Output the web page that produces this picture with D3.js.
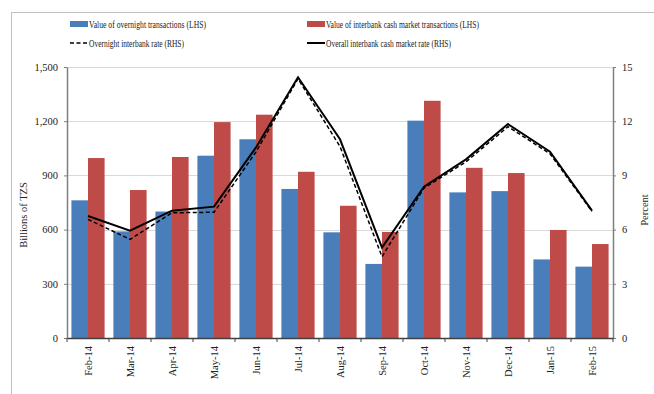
<!DOCTYPE html>
<html>
<head>
<meta charset="utf-8">
<script src="https://cdn.jsdelivr.net/npm/d3@7"></script>
<style>
  html, body { margin: 0; padding: 0; background: #fff; }
  svg { display: block; font-family: "Liberation Serif", "Times New Roman", serif; }
</style>
</head>
<body>
<svg id="chart" width="654" height="394"></svg>
<script>
// Monthly interbank market activity, Feb-14 to Feb-15
const months = ["Feb-14","Mar-14","Apr-14","May-14","Jun-14","Jul-14","Aug-14","Sep-14","Oct-14","Nov-14","Dec-14","Jan-15","Feb-15"];
// Billions of TZS (left axis)
const overnightValue = [762, 590, 700, 1009, 1100, 825, 585, 410, 1203, 806, 813, 435, 395];
const interbankValue = [996, 819, 1002, 1195, 1236, 920, 732, 587, 1313, 942, 913, 598, 520];
// Percent (right axis)
const overnightRate = [6.57, 5.46, 6.93, 6.96, 10.3, 14.35, 10.6, 4.5, 8.3, 9.75, 11.7, 10.2, 7.0];
const overallRate   = [6.75, 5.94, 7.05, 7.27, 10.55, 14.43, 11.0, 5.0, 8.37, 9.89, 11.84, 10.31, 7.05];
const leftTicks = [0, 300, 600, 900, 1200, 1500];
const rightTicks = [0, 3, 6, 9, 12, 15];

const blue = "#4A7EBB", red = "#BE4B48";
const svg = d3.select("#chart");
const plot = { left: 67, right: 613, top: 67, bottom: 338 };

// outer frame
svg.append("path")
  .attr("d", `M11.5,394 V12.5 H654`)
  .attr("fill", "none").attr("stroke", "#bfbfbf").attr("stroke-width", 1);

const x = d3.scaleBand().domain(months).range([plot.left, plot.right]).paddingInner(0.21).paddingOuter(0.105);
const xBand = d3.scaleBand().domain(months).range([plot.left, plot.right]);
const sub = d3.scaleBand().domain(["o", "i"]).range([0, x.bandwidth()]);
const yL = d3.scaleLinear().domain([0, 1500]).range([plot.bottom, plot.top]);
const yR = d3.scaleLinear().domain([0, 15]).range([plot.bottom, plot.top]);

// gridlines
svg.append("g").selectAll("line").data(leftTicks.filter(d => d > 0)).join("line")
  .attr("x1", plot.left).attr("x2", plot.right)
  .attr("y1", d => Math.round(yL(d)) + 0.5).attr("y2", d => Math.round(yL(d)) + 0.5)
  .attr("stroke", "#d9d9d9").attr("stroke-width", 1);

// bars
const groups = svg.append("g").selectAll("g").data(months).join("g")
  .attr("transform", d => `translate(${x(d)},0)`);
groups.append("rect")
  .attr("x", sub("o")).attr("width", sub.bandwidth())
  .attr("y", (d, i) => yL(overnightValue[i]))
  .attr("height", (d, i) => yL(0) - yL(overnightValue[i]))
  .attr("fill", blue);
groups.append("rect")
  .attr("x", sub("i")).attr("width", sub.bandwidth())
  .attr("y", (d, i) => yL(interbankValue[i]))
  .attr("height", (d, i) => yL(0) - yL(interbankValue[i]))
  .attr("fill", red);

// axes
const axisColor = "#7f7f7f";
function styleAxis(g) {
  g.selectAll("path.domain").attr("stroke", axisColor).attr("stroke-width", 1.5);
  g.selectAll(".tick line").attr("stroke", axisColor);
  g.selectAll("text").attr("fill", "#222").attr("font-size", 10.5)
    .attr("font-family", '"Liberation Serif", "Times New Roman", serif');
}
const gL = svg.append("g").attr("transform", `translate(${plot.left},0)`)
  .call(d3.axisLeft(yL).tickValues(leftTicks).tickSize(3).tickSizeOuter(0).tickPadding(6)
    .tickFormat(d3.format(",")));
styleAxis(gL);
const gR = svg.append("g").attr("transform", `translate(${plot.right},0)`)
  .call(d3.axisRight(yR).tickValues(rightTicks).tickSize(3).tickSizeOuter(0).tickPadding(6));
styleAxis(gR);

const gX = svg.append("g").attr("transform", `translate(0,${plot.bottom})`)
  .call(d3.axisBottom(xBand).tickSize(0).tickPadding(0));
gX.selectAll("path.domain").attr("stroke", "#404040").attr("stroke-width", 1.5);
gX.selectAll(".tick text")
  .attr("transform", "rotate(-90)")
  .attr("text-anchor", "end")
  .attr("x", -8).attr("y", 0).attr("dy", "0.35em")
  .attr("font-size", 10.5).attr("fill", "#222")
  .attr("font-family", '"Liberation Serif", "Times New Roman", serif');
// category separator ticks
gX.append("g").selectAll("line").data(months.concat(["end"])).join("line")
  .attr("x1", (d, i) => plot.left + i * xBand.step()).attr("x2", (d, i) => plot.left + i * xBand.step())
  .attr("y1", 0).attr("y2", 4).attr("stroke", "#404040");

// rate lines
const center = d => xBand(d) + xBand.bandwidth() / 2;
const lineOf = arr => d3.line().x((d, i) => center(months[i])).y(d => yR(d))(arr);
svg.append("path").attr("d", lineOf(overnightRate))
  .attr("fill", "none").attr("stroke", "#000").attr("stroke-width", 1.5)
  .attr("stroke-dasharray", "4,2.5");
svg.append("path").attr("d", lineOf(overallRate))
  .attr("fill", "none").attr("stroke", "#000").attr("stroke-width", 2);

// axis titles
svg.append("text").attr("transform", `translate(27,215) rotate(-90)`)
  .attr("text-anchor", "middle").attr("font-size", 10.5).attr("fill", "#222")
  .text("Billions  of  TZS");
svg.append("text").attr("transform", `translate(648,210) rotate(-90)`)
  .attr("text-anchor", "middle").attr("font-size", 10.5).attr("fill", "#222")
  .text("Percent");

// legend (condensed lettering)
const legend = svg.append("g").attr("font-size", 10.5).attr("fill", "#222");
const items = [
  { label: "Value of overnight  transactions (LHS)", type: "bar", color: blue, x: 70, y: 24, w: 117 },
  { label: "Value of interbank cash market transactions (LHS)", type: "bar", color: red, x: 307, y: 24, w: 153 },
  { label: "Overnight interbank rate (RHS)", type: "dash", x: 70, y: 43, w: 95 },
  { label: "Overall interbank cash market rate (RHS)", type: "solid", x: 307, y: 43, w: 125 }
];
items.forEach(it => {
  if (it.type === "bar") {
    legend.append("rect").attr("x", it.x).attr("y", it.y - 3).attr("width", 18).attr("height", 6).attr("fill", it.color);
  } else {
    legend.append("line").attr("x1", it.x).attr("x2", it.x + 18).attr("y1", it.y).attr("y2", it.y)
      .attr("stroke", "#000").attr("stroke-width", it.type === "solid" ? 2 : 1.5)
      .attr("stroke-dasharray", it.type === "dash" ? "4,2.5" : null);
  }
  legend.append("text").attr("x", it.x + 19).attr("y", it.y).attr("dy", "0.35em")
    .attr("textLength", it.w).attr("lengthAdjust", "spacingAndGlyphs")
    .text(it.label);
});
</script>
</body>
</html>
